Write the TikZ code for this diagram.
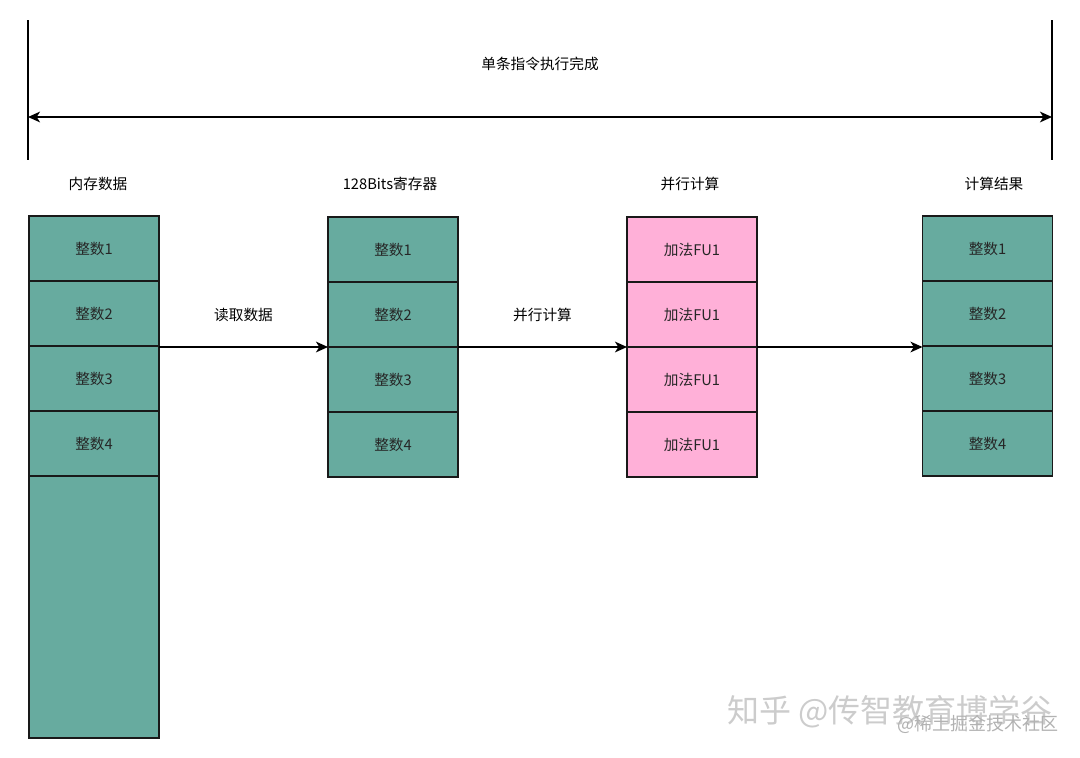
\documentclass[tikz,border=0pt]{standalone}
\usepackage{fontspec}
\setmainfont{Noto Sans CJK SC}
\usetikzlibrary{positioning,arrows.meta}
\definecolor{cellgreen}{HTML}{67AB9F}
\definecolor{fupink}{HTML}{FFB0D8}
\tikzset{
  cell/.style={draw=black!90,line width=1.4pt,fill=cellgreen,minimum width=97.5pt,
    minimum height=48.75pt,inner sep=0pt,outer sep=0pt,text=black!85,font=\fontsize{11}{13}\selectfont},
  fucell/.style={cell,fill=fupink},
  title/.style={font=\fontsize{11}{13}\selectfont},
  conn/.style={line width=1.4pt,-{Stealth[length=9pt,width=8pt,inset=2.5pt]}}
}

\begin{document}
\begin{tikzpicture}[x=0.75pt,y=-0.75pt]
\useasboundingbox (0,0) rectangle (1080,757);

% span of one instruction
\coordinate (spanLt) at (28,20);
\coordinate (spanLb) at (28,160);
\coordinate (spanRt) at (1052,20);
\coordinate (spanRb) at (1052,160);
\coordinate (spanL) at (28,117);
\coordinate (spanR) at (1052,117);
\draw[line width=1.4pt] (spanLt)--(spanLb) (spanRt)--(spanRb);
\draw[line width=1.4pt,{Stealth[length=9pt,width=8pt,inset=2.5pt]}-{Stealth[length=9pt,width=8pt,inset=2.5pt]}]
  (spanL)-- node[midway,above=31pt,title]{单条指令执行完成} (spanR);

% column titles
\node[title] (memtitle) at (98,184) {内存数据};
\node[title] (regtitle) at (390,184) {128Bits寄存器};
\node[title] (futitle) at (690,184) {并行计算};
\node[title] (restitle) at (994,184) {计算结果};

% the four columns
\foreach \i in {1,...,4}{
  \node[cell] (mem\i) at (94,183.5+65*\i) {整数\i};
  \node[cell] (reg\i) at (393,184.5+65*\i) {整数\i};
  \node[fucell] (fu\i) at (692,184.5+65*\i) {加法FU1};
  \node[cell] (res\i) at (987.5,183.5+65*\i) {整数\i};
}
\node[cell,minimum height=196.5pt,anchor=north] (memrest) at (mem4.south) {};

% data flow
\draw[conn] (reg3.north west -| mem3.east)-- node[midway,above=15pt,title]{读取数据} (reg3.north west);
\draw[conn] (reg3.north east)-- node[midway,above=15pt,title]{并行计算} (fu3.north west);
\draw[conn] (fu3.north east)--(fu3.north east -| res3.west);

% watermark
\node[text=black!20,font=\fontsize{24}{26}\selectfont] (wmone) at (890,712) {知乎 @传智教育博学谷};
\node[text=black!30,font=\fontsize{13.5}{15}\selectfont] (wmtwo) at (978,724) {@稀土掘金技术社区};
\end{tikzpicture}
\end{document}
